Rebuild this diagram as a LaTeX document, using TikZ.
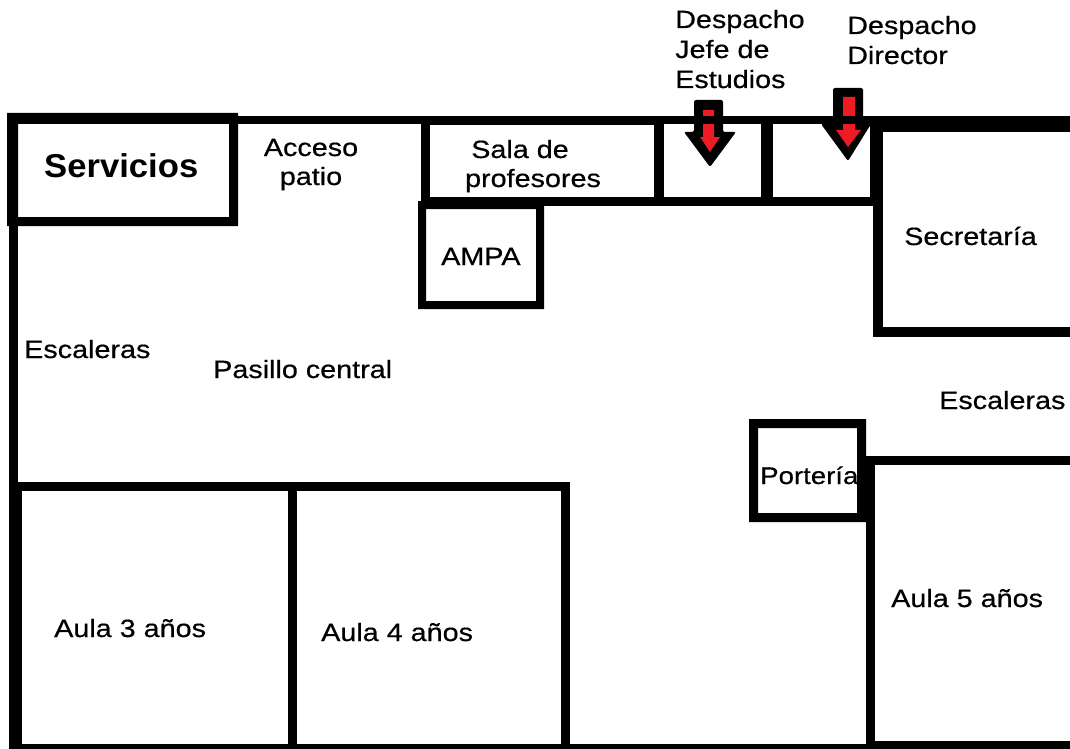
\documentclass[tikz,border=0pt]{standalone}
\usepackage{fontspec}
\setmainfont[FakeStretch=1.15,FakeBold=0.5]{Liberation Sans}
\newfontfamily\titlefont[FakeStretch=1.05]{Liberation Sans}
\definecolor{arrowred}{RGB}{237,28,36}
\tikzset{
  wall/.style={fill=black},
  arrowout/.style={fill=black,rounded corners=2},
  arrowin/.style={fill=arrowred},
  room/.style={anchor=base west,inner sep=0pt,font=\fontsize{25}{30}\selectfont,align=left},
  roomc/.style={room,anchor=base,align=center},
}
\begin{document}
\begin{tikzpicture}[x=1pt,y=-1pt]

\useasboundingbox (0,0) rectangle (1070,749);
\fill[white] (0,0) rectangle (1070,749);

\fill[arrowout] (694,100) -- (723,100) -- (723,132) -- (736,132) -- (710,167) -- (684,132) -- (694,132) -- cycle;
\fill[arrowin] (703,110) -- (714,110) -- (714,137) -- (720,137) -- (710,152) -- (700,137) -- (703,137) -- cycle;

\fill[arrowout] (833,88) -- (863,88) -- (863,124) -- (871,124) -- (848,161) -- (821,124) -- (833,124) -- cycle;
\fill[arrowin] (843,97) -- (855,97) -- (855,130) -- (861,130) -- (848,147) -- (836,130) -- (843,130) -- cycle;

\fill[wall] (238,116) rectangle (870,124);
\fill[wall] (870,116) rectangle (1070,132);

\fill[wall,even odd rule] (7,113) rectangle (238,226) (18,124) rectangle (229,217);
\fill[wall] (9,226) rectangle (18,749);

\fill[wall] (421,116) rectangle (430,201);
\fill[wall] (430,116) rectangle (654,125);
\fill[wall] (654,124) rectangle (664,206);
\fill[wall] (761,124) rectangle (773,206);
\fill[wall] (430,197) rectangle (873,206);
\fill[wall] (870,124) rectangle (883,206);

\fill[wall,even odd rule] (418,201) rectangle (544,309) (426,209) rectangle (536,301);

\fill[wall] (873,206) rectangle (883,337);
\fill[wall] (873,327) rectangle (1070,337);

\fill[wall] (9,482) rectangle (570,491);
\fill[wall] (9,491) rectangle (22,749);
\fill[wall] (288,491) rectangle (297,749);
\fill[wall] (561,491) rectangle (570,749);
\fill[wall] (9,744) rectangle (875,749);
\fill[wall] (875,741) rectangle (1070,749);

\fill[wall,even odd rule] (749,419) rectangle (866,522) (758,428) rectangle (857,513);
\fill[wall] (866,456) rectangle (1070,465);
\fill[wall] (866,456) rectangle (875,749);

\node[anchor=base west,inner sep=0pt,font=\titlefont\bfseries\fontsize{33}{36}\selectfont] (servicios) at (44,177) {Servicios};
\node[roomc] (acceso) at (311,156) {Acceso};
\node[roomc] (patio) at (311,185) {patio};
\node[roomc] (sala) at (520,158) {Sala de};
\node[roomc] (profesores) at (533,187) {profesores};
\node[room] (jefe1) at (675,28) {Despacho};
\node[room] (jefe2) at (675,58) {Jefe de};
\node[room] (jefe3) at (675,88) {Estudios};
\node[room] (director1) at (847,34) {Despacho};
\node[room] (director2) at (847,64) {Director};
\node[room] (secretaria) at (904,245) {Secretaría};
\node[room] (ampa) at (441,265) {AMPA};
\node[room] (escaleras1) at (24,358) {Escaleras};
\node[room] (pasillo) at (213,378) {Pasillo central};
\node[room] (escaleras2) at (939,409) {Escaleras};
\node[room,font=\fontsize{24}{30}\selectfont] (porteria) at (760,484) {Portería};
\node[room] (aula3) at (54,637) {Aula 3 años};
\node[room] (aula4) at (321,641) {Aula 4 años};
\node[room] (aula5) at (891,607) {Aula 5 años};

\end{tikzpicture}
\end{document}
